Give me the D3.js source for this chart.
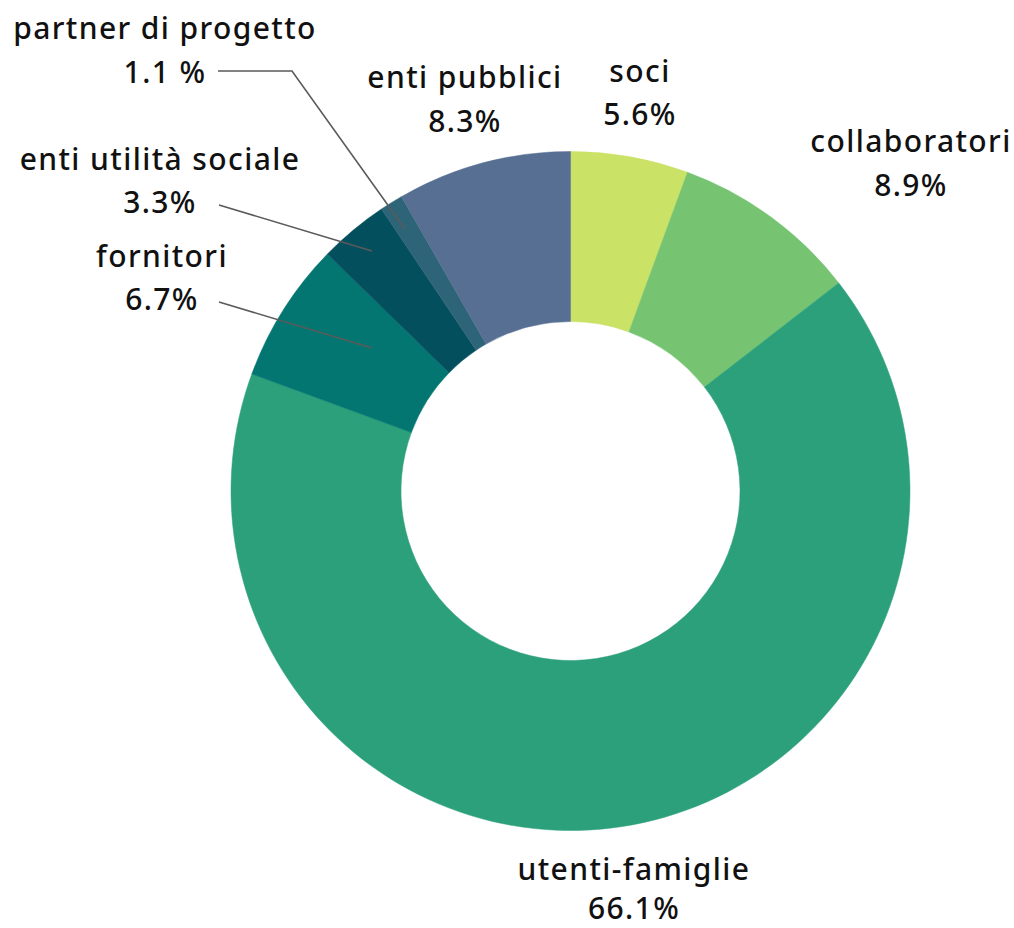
<!DOCTYPE html>
<html>
<head>
<meta charset="utf-8">
<script src="https://cdn.jsdelivr.net/npm/d3@7"></script>
<style>
html,body{margin:0;padding:0;background:#fff;}
svg{display:block;}
text{font-family:"Noto Sans",sans-serif;font-weight:500;font-size:30px;letter-spacing:1.4px;fill:#111;}
</style>
</head>
<body>
<svg id="chart" width="1014" height="928"></svg>
<script>
const categories = ["soci","collaboratori","utenti-famiglie","fornitori","enti utilità sociale","partner di progetto","enti pubblici"];
const values = [5.6, 8.9, 66.1, 6.7, 3.3, 1.1, 8.3];
const valueLabels = ["5.6%","8.9%","66.1%","6.7%","3.3%","1.1 %","8.3%"];
const colors = ["#cae266","#76c472","#2ca07a","#047672","#044f5d","#2e6478","#566f93"];

const svg = d3.select("#chart");
const cx = 570.5, cy = 491, outerR = 339.5, innerR = 169.5;
const g = svg.append("g").attr("transform", `translate(${cx},${cy})`);

const pie = d3.pie().sort(null).value(d => d.v);
const data = categories.map((c,i)=>({c, v: values[i], lab: valueLabels[i], col: colors[i]}));
const arcs = pie(data);
const arc = d3.arc().innerRadius(innerR).outerRadius(outerR);

g.selectAll("path.slice").data(arcs).enter().append("path")
  .attr("class","slice")
  .attr("d", arc)
  .attr("fill", d => d.data.col)
  .attr("stroke", d => d.data.col)
  .attr("stroke-width", 0.5);

const layout = {
  "soci": {x:640, y1:82, y2:125},
  "collaboratori": {x:911, y1:152, y2:196},
  "utenti-famiglie": {x:634, y1:880, y2:919},
  "fornitori": {x:162, y1:267, y2:310, line:[[219,302],[372,348]]},
  "enti utilità sociale": {x:160, y1:170, y2:213, line:[[219,205],[372,251]]},
  "partner di progetto": {x:165, y1:39, y2:83, line:[[218,71],[292,71],[405,229]]},
  "enti pubblici": {x:465, y1:88, y2:132}
};

const lg = svg.append("g");
arcs.forEach(a => {
  const L = layout[a.data.c];
  if (L.line) {
    lg.append("path")
      .attr("d", d3.line()(L.line))
      .attr("fill","none")
      .attr("stroke","#5a5a5a")
      .attr("stroke-width",1.6);
  }
  lg.append("text").attr("x", L.x).attr("y", L.y1).attr("text-anchor","middle").text(a.data.c);
  lg.append("text").attr("x", L.x).attr("y", L.y2).attr("text-anchor","middle").text(a.data.lab);
});
</script>
</body>
</html>
